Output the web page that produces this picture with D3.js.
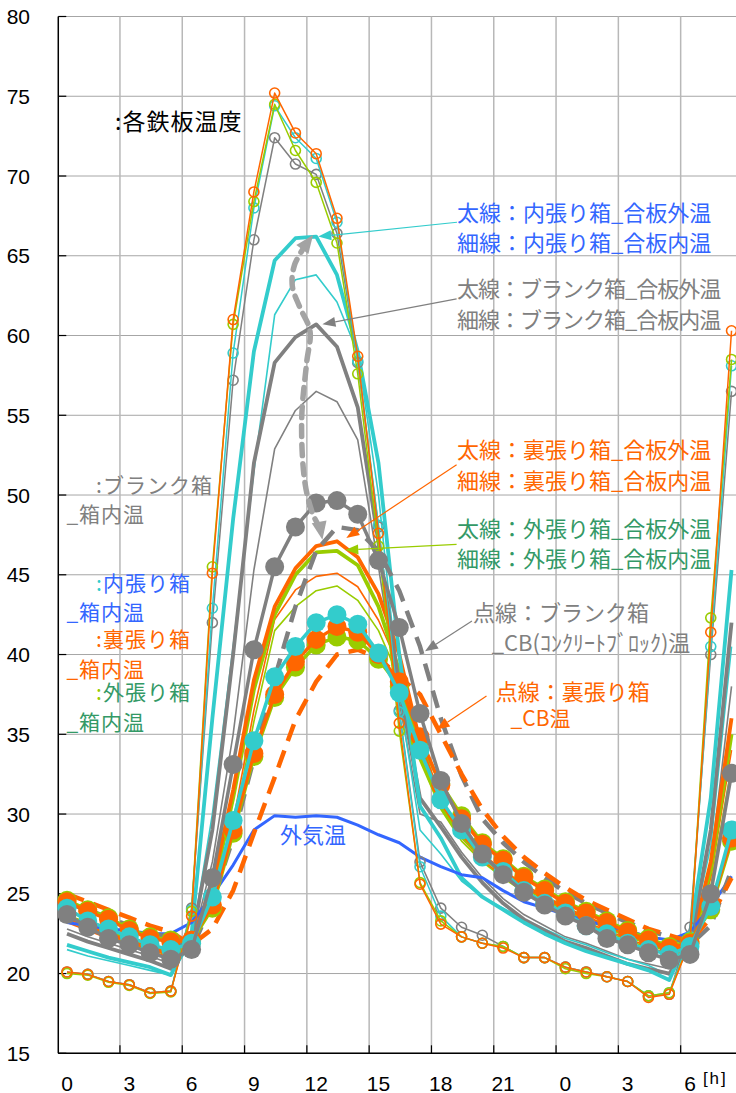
<!DOCTYPE html>
<html>
<head>
<meta charset="utf-8">
<script src="https://cdn.jsdelivr.net/npm/d3@7"></script>
<style>
  body { margin: 0; background: #fff; }
  svg { display: block; }
  text { font-family: "Noto Sans CJK JP", "Noto Sans", sans-serif; }
  .num { font-family: "Liberation Sans", Arial, sans-serif; }
</style>
</head>
<body>
<svg id="chart" width="736" height="1093"></svg>
<script>
// hours from 0:00 of day 1 to 8:00 of day 2
const hours = [0,1,2,3,4,5,6,7,8,9,10,11,12,13,14,15,16,17,18,19,20,21,22,23,24,25,26,27,28,29,30,31,32];
const xTickHours = [0,3,6,9,12,15,18,21,24,27,30];
const xTickLabels = ['0','3','6','9','12','15','18','21','0','3','6'];
const yTicks = [15,20,25,30,35,40,45,50,55,60,65,70,75,80];

// 外気温
const outside = [23.2,23.0,22.8,22.7,22.5,22.5,23.2,24.9,26.8,29.0,29.9,29.8,29.9,29.8,29.3,28.7,28.2,27.3,26.7,26.2,26.0,25.2,24.5,24.1,23.7,23.3,23.0,22.7,22.3,22.1,22.6,24.2,26.1];

// 各鉄板温度 (open circles)
const steelOrange = [20.1,19.95,19.5,19.3,18.8,18.9,23.6,45.1,61.0,69.0,75.2,72.7,71.4,67.35,58.7,47.6,35.7,25.6,23.1,22.3,21.9,21.6,21.0,21.0,20.4,20.1,19.8,19.5,18.5,18.7,22.0,41.4,60.3];
const steelGreen  = [20.0,19.9,19.45,19.25,18.75,18.85,23.9,45.5,60.7,68.4,74.5,71.6,69.6,65.8,57.6,46.8,35.2,25.7,23.3,22.3,21.9,21.7,21.0,21.0,20.3,20.0,19.8,19.5,18.6,18.8,22.0,42.3,58.5];
const steelCyan   = [20.05,19.95,19.5,19.3,18.8,18.9,24.0,42.9,58.9,68.0,74.4,72.4,71.1,67.1,58.4,48.1,36.4,26.7,23.6,22.3,21.9,21.7,21.0,21.0,20.4,20.1,19.8,19.5,18.6,18.8,22.3,40.5,58.1];
const steelGray   = [20.1,19.95,19.5,19.3,18.8,18.9,24.1,42.0,57.2,66.0,72.4,70.75,70.1,66.4,58.3,48.0,36.5,27.0,24.1,22.9,22.4,21.7,21.0,21.0,20.4,20.1,19.8,19.5,18.6,18.7,22.9,40.0,56.5];

// 箱内温 (filled circles)
const boxGray   = [23.7,22.9,22.2,21.8,21.3,20.9,21.5,26.0,33.1,40.3,45.5,48.0,49.5,49.65,48.8,45.9,41.7,36.3,32.1,29.4,27.5,26.2,25.1,24.3,23.6,23.0,22.2,21.8,21.3,20.85,21.2,25.0,32.55];
const boxCyan   = [24.1,23.3,22.8,22.3,21.8,21.5,21.9,24.8,29.6,34.6,38.6,40.5,42.0,42.5,41.9,40.1,37.6,34.0,30.9,29.0,27.3,26.4,25.2,24.4,23.8,23.0,22.5,21.9,21.5,21.2,21.7,24.2,29.0];
const boxOrange = [24.5,23.9,23.4,22.7,22.2,22.0,22.1,24.3,29.0,33.8,37.5,39.55,40.95,41.75,41.4,40.0,38.3,34.85,31.8,29.7,28.1,27.1,26.0,25.2,24.4,23.8,23.2,22.6,22.1,21.6,21.9,24.2,28.5];
const boxGreen  = [24.6,24.0,23.5,22.8,22.3,22.1,22.0,24.1,28.8,33.6,37.3,39.2,40.6,41.1,40.9,39.7,38.0,34.6,31.9,29.9,28.2,27.2,26.1,25.3,24.5,23.9,23.3,22.7,22.2,21.7,22.0,24.0,28.3];

// 合板外温 (thick lines)
const plyOutCyan   = [21.8,21.4,21.0,20.7,20.4,19.9,22.5,36.0,48.5,59.0,64.7,66.1,66.2,63.8,59.0,52.0,40.0,30.5,28.5,26.0,24.8,24.0,23.2,22.5,21.9,21.4,21.0,20.6,20.2,19.6,22.5,31.0,45.3];
const plyOutGray   = [22.5,22.0,21.6,21.2,20.8,20.3,22.0,29.0,40.0,52.0,58.3,59.9,60.7,59.3,55.5,47.0,38.0,31.0,29.2,27.3,25.7,24.4,23.4,22.7,22.0,21.6,21.1,20.6,20.3,20.0,21.8,29.0,42.0];
const plyOutOrange = [23.5,23.0,22.5,22.0,21.6,21.2,22.0,25.5,31.5,38.4,43.0,45.4,46.8,47.1,46.1,43.8,40.0,34.5,30.8,28.8,27.4,26.4,25.5,24.8,24.1,23.5,23.0,22.5,22.0,21.5,21.6,27.0,36.0];
const plyOutGreen  = [23.6,23.1,22.6,22.1,21.7,21.3,22.0,25.0,31.0,37.8,42.5,45.0,46.4,46.5,45.6,43.0,39.0,33.5,30.5,28.6,27.3,26.3,25.4,24.7,24.0,23.4,22.9,22.4,21.9,21.4,21.5,26.5,35.0];

// 合板内温 (thin lines)
const plyInCyan   = [21.5,21.1,20.8,20.5,20.2,19.9,22.0,30.0,40.5,51.5,61.3,63.5,63.8,62.1,58.9,50.0,37.5,29.0,27.5,25.8,24.8,24.1,23.4,22.8,22.2,21.8,21.3,20.9,20.5,19.9,22.0,28.0,40.5];
const plyInGray   = [22.8,22.3,21.9,21.5,21.1,20.6,21.8,27.0,35.0,45.3,52.9,55.3,56.5,55.85,53.45,45.5,37.0,30.0,29.5,27.6,26.0,24.7,23.7,23.0,22.3,21.9,21.4,20.9,20.6,20.3,21.6,27.0,38.0];
const plyInOrange = [23.2,22.7,22.2,21.8,21.4,21.0,21.8,24.5,29.5,36.5,42.2,44.05,44.9,45.1,44.25,42.15,39.2,34.0,30.5,28.5,27.1,26.1,25.2,24.5,23.8,23.2,22.7,22.2,21.7,21.2,21.4,26.0,34.0];
const plyInGreen  = [23.3,22.8,22.3,21.9,21.5,21.1,21.8,24.3,29.0,35.8,41.5,43.0,44.0,44.3,43.4,41.5,38.5,33.5,30.3,28.3,27.0,26.0,25.1,24.4,23.7,23.1,22.6,22.1,21.6,21.1,21.3,25.5,33.0];

// CB温 (dashed)
const cbGray   = [24.4,24.0,23.5,23.0,22.6,22.2,21.5,24.5,28.5,33.5,38.5,43.0,46.5,48.0,47.8,46.5,44.0,40.5,36.0,32.4,29.7,28.2,27.0,26.0,25.1,24.4,23.8,23.2,22.7,22.3,21.8,23.0,26.5];
const cbOrange = [25.0,24.5,24.0,23.5,23.0,22.6,21.8,22.8,25.2,28.8,32.3,35.9,38.3,40.0,40.3,39.8,38.6,37.5,35.0,32.5,30.3,28.6,27.3,26.3,25.4,24.6,24.0,23.4,22.8,22.4,22.0,23.5,26.0];

const ORANGE = '#ff6600', GREEN = '#99cc00', CYAN = '#33cccc', GRAY = '#808080',
      BLUE = '#3366ff', GREEN_TXT = '#339966', LIGHT = '#a3a3a3';

const svg = d3.select('#chart');
const x = d3.scaleLinear().domain([0, 30]).range([67, 690]);
const y = d3.scaleLinear().domain([15, 80]).range([1053.3, 16.5]);
const x0 = x(-0.42);
const W = 736;

// grid
const grid = svg.append('g');
grid.selectAll('.hg').data(yTicks).join('line')
  .attr('x1', x0).attr('x2', W).attr('y1', d => y(d)).attr('y2', d => y(d))
  .attr('stroke', '#a6a6a6').attr('stroke-width', 1);
const vgrid = [3,6,9,12,15,18,21,24,27,30].map(h => h - 0.45);
grid.selectAll('.vg').data(vgrid).join('line')
  .attr('x1', d => x(d)).attr('x2', d => x(d)).attr('y1', y(80)).attr('y2', y(15))
  .attr('stroke', '#b8b8b8').attr('stroke-width', 1.5);

// axes
svg.append('line').attr('x1', x0).attr('x2', x0).attr('y1', y(80)).attr('y2', y(15))
  .attr('stroke', '#000').attr('stroke-width', 1.5);
svg.append('line').attr('x1', x0).attr('x2', W).attr('y1', y(15)).attr('y2', y(15))
  .attr('stroke', '#000').attr('stroke-width', 1.5);
svg.selectAll('.yt').data(yTicks).join('line')
  .attr('x1', x0).attr('x2', x0 + 8).attr('y1', d => y(d)).attr('y2', d => y(d))
  .attr('stroke', '#000').attr('stroke-width', 1.2);
svg.selectAll('.xt').data(vgrid).join('line')
  .attr('x1', d => x(d)).attr('x2', d => x(d)).attr('y1', y(15)).attr('y2', y(15) - 8)
  .attr('stroke', '#000').attr('stroke-width', 1.2);

svg.selectAll('.yl').data(yTicks).join('text')
  .attr('class', 'num').attr('x', 30).attr('y', d => y(d) + 7.5)
  .attr('text-anchor', 'end').attr('font-size', 21).attr('fill', '#000')
  .text(d => d);
svg.selectAll('.xl').data(xTickHours).join('text')
  .attr('class', 'num').attr('x', d => x(d)).attr('y', 1090.5)
  .attr('text-anchor', 'middle').attr('font-size', 21).attr('fill', '#000')
  .text((d, i) => xTickLabels[i]);
svg.append('text').attr('class', 'num').attr('x', x(30.62)).attr('y', 1084)
  .attr('font-size', 17).attr('fill', '#000').attr('letter-spacing', 2).text('[h]');

const line = d3.line().x((d, i) => x(hours[i])).y(d => y(d));
const plot = svg.append('g');

function drawLine(data, color, width, dash) {
  plot.append('path').datum(data).attr('d', line)
    .attr('fill', 'none').attr('stroke', color).attr('stroke-width', width)
    .attr('stroke-linejoin', 'round')
    .attr('stroke-dasharray', dash || null);
}

// 合板内温 (thin) and 合板外温 (thick)
[[plyInGreen, GREEN], [plyInOrange, ORANGE], [plyInGray, GRAY], [plyInCyan, CYAN]]
  .forEach(([d, c]) => drawLine(d, c, 1.6));
[[plyOutGreen, GREEN], [plyOutOrange, ORANGE], [plyOutGray, GRAY], [plyOutCyan, CYAN]]
  .forEach(([d, c]) => drawLine(d, c, 3.8));

// 外気温
drawLine(outside, BLUE, 3);

// CB
drawLine(cbGray, GRAY, 4.5, '18,10');
drawLine(cbOrange, ORANGE, 4.5, '18,10');

// 鉄板温度
[[steelGray, GRAY], [steelCyan, CYAN], [steelGreen, GREEN], [steelOrange, ORANGE]].forEach(([d, c]) => {
  drawLine(d, c, 1.5);
  plot.append('g').selectAll('circle').data(d).join('circle')
    .attr('cx', (v, i) => x(hours[i])).attr('cy', v => y(v)).attr('r', 5)
    .attr('fill', 'none').attr('stroke', c).attr('stroke-width', 1.6);
});

// 箱内温
[[boxGreen, GREEN], [boxOrange, ORANGE], [boxCyan, CYAN], [boxGray, GRAY]].forEach(([d, c]) => {
  drawLine(d, c, 3.5);
  plot.append('g').selectAll('circle').data(d).join('circle')
    .attr('cx', (v, i) => x(hours[i])).attr('cy', v => y(v)).attr('r', 9.5)
    .attr('fill', c);
});

// annotations
const ann = svg.append('g');

function head(tip, from, color, len, wid) {
  const dx = tip[0] - from[0], dy = tip[1] - from[1];
  const L = Math.hypot(dx, dy), ux = dx / L, uy = dy / L;
  const bx = tip[0] - ux * len, by = tip[1] - uy * len;
  ann.append('path')
    .attr('d', `M${tip[0]},${tip[1]}L${bx - uy * wid / 2},${by + ux * wid / 2}L${bx + uy * wid / 2},${by - ux * wid / 2}Z`)
    .attr('fill', color);
  return [bx, by];
}

function arrow(from, to, color) {
  const a = [x(from[0]), y(from[1])], b = [x(to[0]), y(to[1])];
  const base = head(b, a, color, 13, 10);
  ann.append('line').attr('x1', a[0]).attr('y1', a[1]).attr('x2', base[0]).attr('y2', base[1])
    .attr('stroke', color).attr('stroke-width', 1.2);
}

arrow([18.78, 67.1], [12.1, 66.2], CYAN);
arrow([18.76, 62.3], [12.3, 60.7], GRAY);
arrow([18.76, 51.9], [13.45, 47.3], ORANGE);
arrow([18.76, 46.9], [13.4, 46.55], GREEN);
arrow([19.5, 42.1], [17.24, 40.2], GRAY);
arrow([20.2, 37.4], [17.8, 35.3], ORANGE);

// dashed double-headed curve between 内張り箱 peak and ブランク箱 box temp
const curvePts = [[12.2, 47.9], [11.84, 48.8], [11.46, 50.75], [11.3, 54.7], [11.54, 58.3], [11.7, 60.3],
                  [11.2, 61.8], [10.85, 63.1], [10.95, 64.4], [11.45, 65.6]]
  .map(p => [x(p[0]), y(p[1])]);
const cl = curvePts.length;
const topTip = [x(11.85), y(66.3)], botTip = [x(12.3), y(47.2)];
head(topTip, curvePts[cl - 1], LIGHT, 18, 15);
head(botTip, curvePts[0], LIGHT, 18, 15);
ann.append('path').datum(curvePts).attr('d', d3.line().curve(d3.curveCatmullRom))
  .attr('fill', 'none').attr('stroke', LIGHT).attr('stroke-width', 5.5)
  .attr('stroke-dasharray', '11,8').attr('stroke-linecap', 'round');

// labels
function label(h, v, parts, size, spacing) {
  const t = ann.append('text').attr('x', x(h)).attr('y', y(v))
    .attr('font-size', size || 22).attr('letter-spacing', spacing == null ? 1 : spacing);
  parts.forEach(([s, c]) => t.append('tspan').attr('fill', c).text(s));
}

label(2.31, 72.9, [[':', '#000'], ['各鉄板温度', '#000']], 23);

label(18.78, 67.2, [['太線：内張り箱_合板外温', BLUE]], 22, 0);
label(18.78, 65.3, [['細線：内張り箱_合板内温', BLUE]], 22, 0);
label(18.78, 62.4, [['太線：ブランク箱_合板外温', GRAY]], 22, -1);
label(18.78, 60.5, [['細線：ブランク箱_合板内温', GRAY]], 22, -1);
label(18.78, 52.3, [['太線：裏張り箱_合板外温', ORANGE]], 22, 0);
label(18.78, 50.4, [['細線：裏張り箱_合板内温', ORANGE]], 22, 0);
label(18.78, 47.35, [['太線：外張り箱_合板外温', GREEN_TXT]], 22, 0);
label(18.78, 45.5, [['細線：外張り箱_合板内温', GREEN_TXT]], 22, 0);

label(19.55, 42.1, [['点線：ブランク箱', GRAY]], 22, 0);
label(20.45, 40.2, [['_CB(ｺﾝｸﾘｰﾄﾌﾞﾛｯｸ)温', GRAY]], 22, 0);
label(20.65, 37.15, [['点線：裏張り箱', ORANGE]], 22, 0);
label(21.36, 35.5, [['_CB温', ORANGE]], 21, 0);

label(1.4, 50.1, [[':', GRAY], ['ブランク箱', GRAY]], 21);
label(-0.03, 48.3, [['_箱内温', GRAY]], 21);
label(1.4, 44.0, [[':', CYAN], ['内張り箱', BLUE]], 21);
label(-0.03, 42.15, [['_箱内温', BLUE]], 21);
label(1.4, 40.5, [[':', ORANGE], ['裏張り箱', ORANGE]], 21);
label(-0.03, 38.6, [['_箱内温', ORANGE]], 21);
label(1.4, 37.15, [[':', GREEN], ['外張り箱', GREEN_TXT]], 21);
label(-0.03, 35.25, [['_箱内温', GREEN_TXT]], 21);

label(10.26, 28.2, [['外気温', BLUE]], 22, 0);
</script>
</body>
</html>
